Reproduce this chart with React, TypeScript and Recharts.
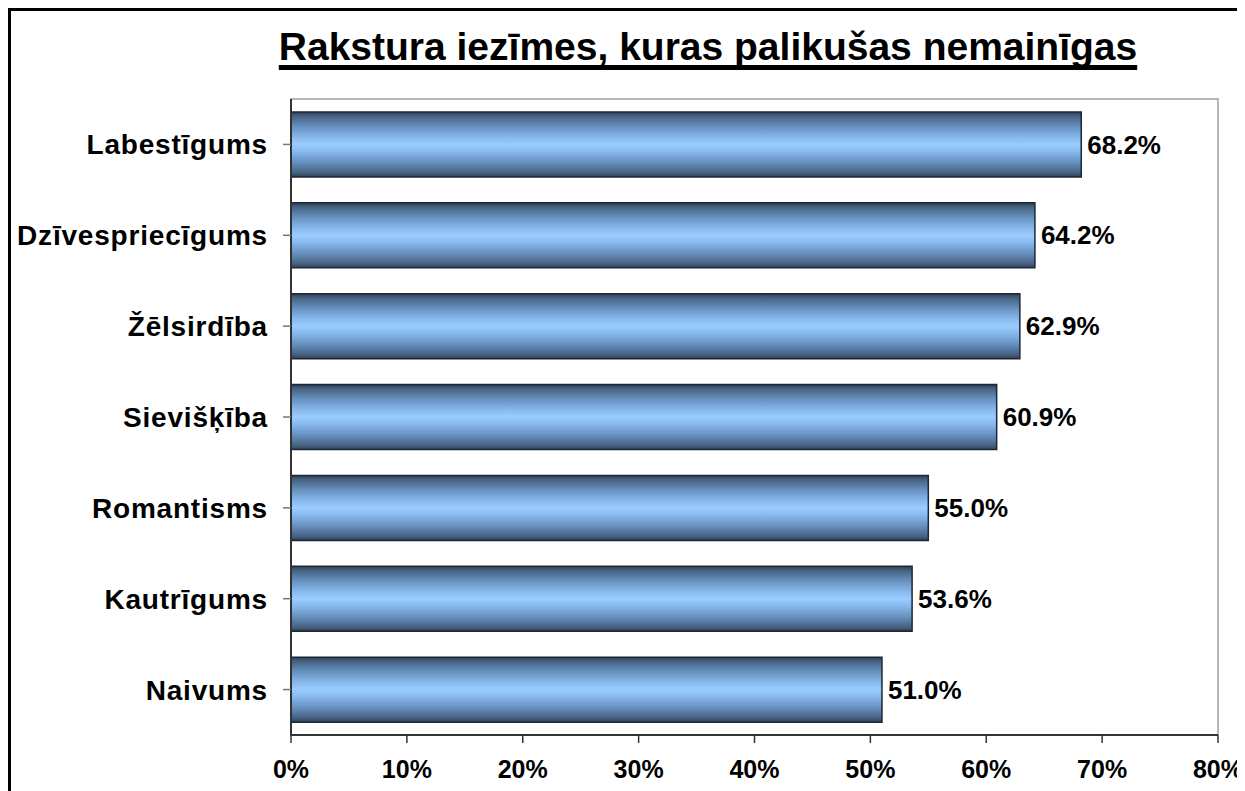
import React from "react";
import { BarChart, Bar, XAxis, YAxis, ReferenceArea, LabelList } from "recharts";

const categories = [
  "Labestīgums",
  "Dzīvespriecīgums",
  "Žēlsirdība",
  "Sievišķība",
  "Romantisms",
  "Kautrīgums",
  "Naivums",
];
const values = [68.2, 64.2, 62.9, 60.9, 55.0, 53.6, 51.0];
const xTicks = [0, 10, 20, 30, 40, 50, 60, 70, 80];
const title = "Rakstura iezīmes, kuras palikušas nemainīgas";

const data = categories.map((c, i) => ({ name: c, value: values[i] }));

const FONT = "'Liberation Sans', Arial, sans-serif";

const ValueLabel = (props: any) => {
  const { x, y, width, height, value } = props;
  return (
    <text
      x={x + width + 6}
      y={y + height / 2}
      dy={9}
      fontFamily={FONT}
      fontWeight="bold"
      fontSize={26}
      fill="#000"
    >
      {Number(value).toFixed(1) + "%"}
    </text>
  );
};

export default function App() {
  return (
    <div
      style={{
        position: "relative",
        width: 1232,
        height: 800,
        border: "3px solid #000",
        boxSizing: "border-box",
        background: "#fff",
      }}
    >
      <div
        style={{
          position: "absolute",
          left: 697,
          top: 16,
          transform: "translateX(-50%)",
          whiteSpace: "nowrap",
          fontFamily: FONT,
          fontWeight: "bold",
          fontSize: 39,
          lineHeight: "40px",
          textDecoration: "underline",
          textDecorationThickness: 5,
          textUnderlineOffset: 5,
          textDecorationSkipInk: "none",
          color: "#000",
        }}
      >
        {title}
      </div>
      <div style={{ position: "absolute", left: -3, top: -3 }}>
        <BarChart
          width={1237}
          height={783}
          data={data}
          layout="vertical"
          margin={{ top: 91, right: 27, bottom: 0, left: 0 }}
          barCategoryGap="14%"
        >
          <defs>
            <linearGradient id="barGrad" x1="0" y1="0" x2="0" y2="1">
              <stop offset="0" stopColor="#2c3e55" />
              <stop offset="0.06" stopColor="#46607f" />
              <stop offset="0.22" stopColor="#6590be" />
              <stop offset="0.4" stopColor="#8abbef" />
              <stop offset="0.5" stopColor="#99ccff" />
              <stop offset="0.6" stopColor="#8abbef" />
              <stop offset="0.78" stopColor="#6590be" />
              <stop offset="0.94" stopColor="#46607f" />
              <stop offset="1" stopColor="#2c3e55" />
            </linearGradient>
          </defs>
          <ReferenceArea x1={0} x2={80} fill="none" stroke="#a0a0a0" strokeWidth={1.5} ifOverflow="visible" />
          <XAxis
            type="number"
            domain={[0, 80]}
            ticks={xTicks}
            tickFormatter={(v: number) => v + "%"}
            height={56}
            tickSize={8}
            tickMargin={17}
            axisLine={{ stroke: "#333", strokeWidth: 2 }}
            tickLine={{ stroke: "#333", strokeWidth: 1.5 }}
            tick={{ fill: "#000", fontFamily: FONT, fontWeight: "bold", fontSize: 25 }}
            interval={0}
          />
          <YAxis
            type="category"
            dataKey="name"
            width={283}
            tickSize={8}
            tickMargin={15}
            axisLine={{ stroke: "#333", strokeWidth: 2 }}
            tickLine={{ stroke: "#777", strokeWidth: 1.5 }}
            tick={{ fill: "#000", fontFamily: FONT, fontWeight: "bold", fontSize: 28, letterSpacing: 0.8 }}
            interval={0}
          />
          <Bar
            dataKey="value"
            fill="url(#barGrad)"
            stroke="#1c2838"
            strokeWidth={1.5}
            barSize={65}
            isAnimationActive={false}
          >
            <LabelList dataKey="value" content={<ValueLabel />} />
          </Bar>
        </BarChart>
      </div>
    </div>
  );
}
